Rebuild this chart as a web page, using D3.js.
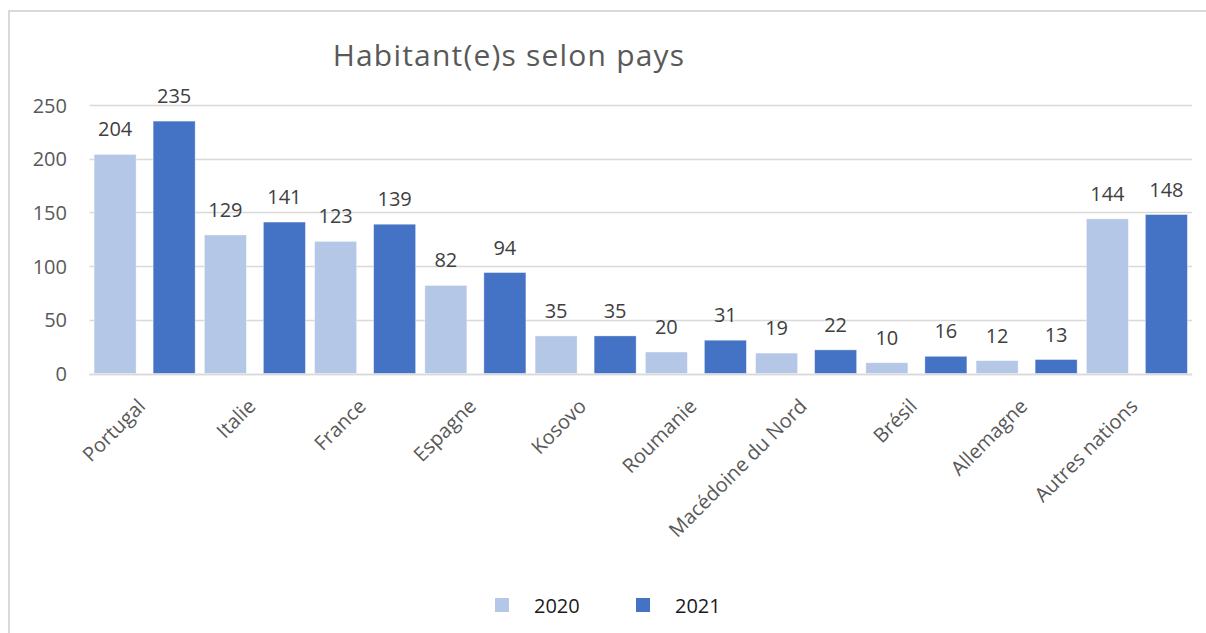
<!DOCTYPE html>
<html>
<head>
<meta charset="utf-8">
<script src="https://cdn.jsdelivr.net/npm/d3@7"></script>
<style>
  html, body { margin: 0; padding: 0; background: #fff; }
  svg { display: block; }
  text { font-family: "Open Sans", sans-serif; }
</style>
</head>
<body>
<svg id="chart" width="1206" height="633"></svg>
<script>
const categories = ["Portugal", "Italie", "France", "Espagne", "Kosovo", "Roumanie", "Macédoine du Nord", "Brésil", "Allemagne", "Autres nations"];
const values2020 = [204, 129, 123, 82, 35, 20, 19, 10, 12, 144];
const values2021 = [235, 141, 139, 94, 35, 31, 22, 16, 13, 148];
const seriesNames = ["2020", "2021"];
const seriesColors = ["#b4c7e7", "#4472c4"];
const yTicks = [0, 50, 100, 150, 200, 250];
const titleText = "Habitant(e)s selon pays";

const svg = d3.select("#chart");

// chart border (open on right/bottom, as in the reference)
svg.append("path")
  .attr("d", "M9,640 L9,11 L1210,11")
  .attr("fill", "none")
  .attr("stroke", "#d9d9d9")
  .attr("stroke-width", 2);

const plot = { left: 89.5, right: 1192, top: 105, bottom: 373.5 };

const x = d3.scaleBand().domain(categories).range([plot.left, plot.right]).paddingInner(0).paddingOuter(0);
const xs = d3.scaleBand().domain(seriesNames).range([0, x.bandwidth()]).paddingInner(0.288).paddingOuter(0.078);
const y = d3.scaleLinear().domain([0, 250]).range([plot.bottom, plot.top]);

// gridlines
svg.append("g").selectAll("line").data(yTicks).join("line")
  .attr("x1", plot.left).attr("x2", plot.right)
  .attr("y1", d => Math.round(y(d)) + 0.5).attr("y2", d => Math.round(y(d)) + 0.5)
  .attr("stroke", "#d9d9d9").attr("stroke-width", 1.3);

// y axis labels
const yAxis = d3.axisLeft(y).tickValues(yTicks).tickSize(0).tickPadding(0);
const gy = svg.append("g").attr("transform", "translate(67,0)").call(yAxis);
gy.select(".domain").remove();
gy.selectAll("text").attr("fill", "#595959").style("font-size", "20px").style("font-family", "Open Sans").attr("dy", "0.35em");

// bars
const series = [values2020, values2021];
const data = [];
categories.forEach((c, i) => {
  seriesNames.forEach((s, j) => data.push({ cat: c, s, v: series[j][i], color: seriesColors[j] }));
});

svg.append("g").selectAll("rect").data(data).join("rect")
  .attr("x", d => x(d.cat) + xs(d.s))
  .attr("width", xs.bandwidth())
  .attr("y", d => y(d.v))
  .attr("height", d => y(0) - y(d.v))
  .attr("fill", d => d.color)
  .attr("stroke", "#ffffff").attr("stroke-opacity", 0.5).attr("stroke-width", 0.75);

// data labels
svg.append("g").selectAll("text").data(data).join("text")
  .attr("x", d => x(d.cat) + xs(d.s) + xs.bandwidth() / 2)
  .attr("y", d => y(d.v) - 18)
  .attr("text-anchor", "middle")
  .attr("fill", "#404040")
  .style("font-size", "20px")
  .text(d => d.v);

// x axis line
svg.append("line")
  .attr("x1", plot.left).attr("x2", plot.right)
  .attr("y1", Math.round(y(0)) + 0.5).attr("y2", Math.round(y(0)) + 0.5)
  .attr("stroke", "#d9d9d9").attr("stroke-width", 1.3);

// x axis labels
const xAxis = d3.axisBottom(x).tickSize(0).tickPadding(0);
const gx = svg.append("g").attr("transform", `translate(0,${plot.bottom})`).call(xAxis);
gx.select(".domain").remove();
gx.selectAll(".tick text")
  .attr("fill", "#595959")
  .style("font-size", "20px")
  .style("font-family", "Open Sans")
  .attr("text-anchor", "end")
  .attr("y", 0).attr("dy", 0)
  .attr("transform", "translate(2,34) rotate(-45)");

// title
svg.append("text")
  .attr("x", 509).attr("y", 66)
  .attr("text-anchor", "middle")
  .attr("fill", "#595959")
  .style("font-size", "30px")
  .style("letter-spacing", "1.2px")
  .text(titleText);

// legend
const legendX = [495, 636];
const lg = svg.append("g").selectAll("g").data(seriesNames).join("g")
  .attr("transform", (d, i) => `translate(${legendX[i]},598)`);
lg.append("rect").attr("width", 14).attr("height", 14).attr("fill", (d, i) => seriesColors[i]);
lg.append("text").attr("x", 39).attr("y", 15).attr("fill", "#1a1a1a").style("font-size", "20px").text(d => d);
</script>
</body>
</html>
